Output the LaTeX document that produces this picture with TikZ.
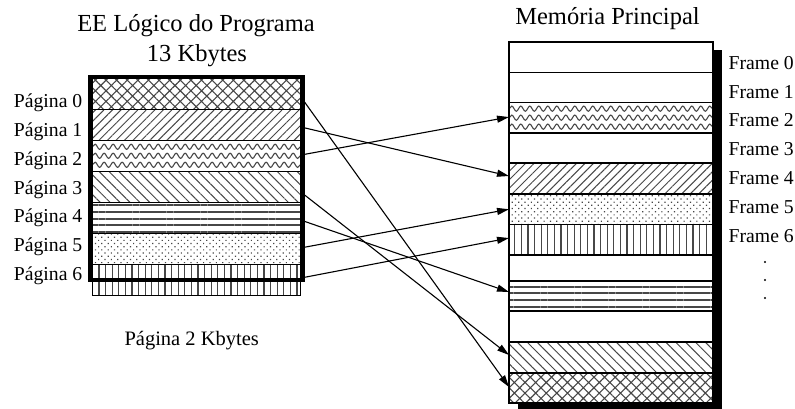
\documentclass[tikz,border=0pt]{standalone}
\usepackage{fontspec}
\setmainfont{Liberation Serif}
\usetikzlibrary{patterns,patterns.meta,arrows.meta,decorations.pathmorphing}
\begin{document}
\begin{tikzpicture}[x=1pt,y=-1pt,
  hcol/.style={pattern color=black!72},
  page/.style={draw=black, line width=1pt, minimum width=208.4pt, minimum height=30.9pt, inner sep=0pt, outer sep=0pt},
  frm/.style={draw=black, line width=1.2pt, minimum width=204pt, inner sep=0pt, outer sep=0pt},
  fwhite/.style={fill=white},
  pxh/.style={hcol, pattern={Hatch[angle=45,distance=7.5pt,line width=1.1pt]}},
  pne/.style={hcol, pattern={Lines[angle=45,distance=6pt,line width=1pt]}},
  pnw/.style={hcol, pattern={Lines[angle=-45,distance=7pt,line width=1pt]}},
  phor/.style={hcol, pattern={Lines[angle=0,distance=6.8pt,line width=2pt]}},
  pver/.style={hcol, pattern={Lines[angle=90,distance=6.6pt,line width=1.3pt]}},
  pdot/.style={hcol, pattern={Dots[angle=45,distance=4.5pt,radius=0.85pt]}},
  pwav/.style={path picture={
     \foreach \d in {6,15,24}
       \draw[black!72, line width=1.1pt, decorate, decoration={snake,segment length=9pt,amplitude=2.6pt}]
         ([yshift=-\d pt]path picture bounding box.north west) -- ([yshift=-\d pt]path picture bounding box.north east);}},
  lbl/.style={font=\fontsize{19.7pt}{23pt}\selectfont, inner sep=0pt},
  lblb/.style={font=\fontsize{20.5pt}{24pt}\selectfont, inner sep=0pt},
  ttl/.style={font=\fontsize{24.5pt}{29pt}\selectfont, inner sep=0pt},
  arr/.style={line width=1.1pt, -{Triangle[length=12pt,width=7pt]}}
]
\useasboundingbox (0,0) rectangle (795,409);

% titles
\node[ttl, anchor=base] (t1) at (196,31.7) {EE Lógico do Programa};
\node[ttl, anchor=base] (t2) at (197,61.7) {13 Kbytes};
\node[ttl, anchor=base] (t3) at (607.5,25) {Memória Principal};
\node[lblb, anchor=base] (t4) at (191.7,345) {Página 2 Kbytes};

% logical pages
\foreach \i/\s in {0/pxh,1/pne,2/pwav,3/pnw,4/phor,5/pdot,6/pver}
  \node[page,\s] (p\i) at (196.5,{94.45+30.9*\i}) {};
\node[draw=black, line width=4.2pt, minimum width=212.6pt, minimum height=202.7pt, inner sep=0pt, outer sep=0pt] (lbox) at (196.6,178.35) {};

\foreach \i in {0,...,6}
  \node[lbl, anchor=base east] (l\i) at (82.5,{108+28.67*\i}) {Página \i};

% main memory
\fill[black] (518,50) rectangle (722,409);
\fill[white] (509,42) rectangle (713,403);
\foreach \i/\t/\b/\s in {0/42/72.7/fwhite,1/72.7/102.7/fwhite,2/102.7/133/pwav,3/133/163/fwhite,
   4/163/194/pne,5/194/224.5/pdot,6/224.5/255/pver,7/255/281/fwhite,8/281/311/phor,
   9/311/342/fwhite,10/342/373/pnw,11/373/403/pxh}
  \node[frm,\s, minimum height={(\b-\t)*1pt}] (fr\i) at (611,{(\t+\b)/2}) {};

\foreach \i in {0,...,6}
  \node[lbl, anchor=base west] (fl\i) at (728.5,{69.3+28.85*\i}) {Frame \i};
\fill (765,262) circle (1.1pt);
\fill (765,280) circle (1.1pt);
\fill (765,298) circle (1.1pt);

% mapping arrows
\draw[arr] ([yshift=-2.2pt]p0.east) -- ([yshift=1pt]fr11.west);
\draw[arr] ([yshift=-1.6pt]p1.east) -- ([yshift=2.5pt]fr4.west);
\draw[arr] ([yshift=1.2pt]p2.east) -- ([yshift=0.8pt]fr2.west);
\draw[arr] ([yshift=-4.8pt]p3.east) -- ([yshift=2.5pt]fr10.west);
\draw[arr] ([yshift=-2pt]p4.east) -- ([yshift=4pt]fr8.west);
\draw[arr] ([yshift=1pt]p5.east) -- ([yshift=0pt]fr5.west);
\draw[arr] ([yshift=1.8pt]p6.east) -- ([yshift=1.7pt]fr6.west);
\end{tikzpicture}
\end{document}
